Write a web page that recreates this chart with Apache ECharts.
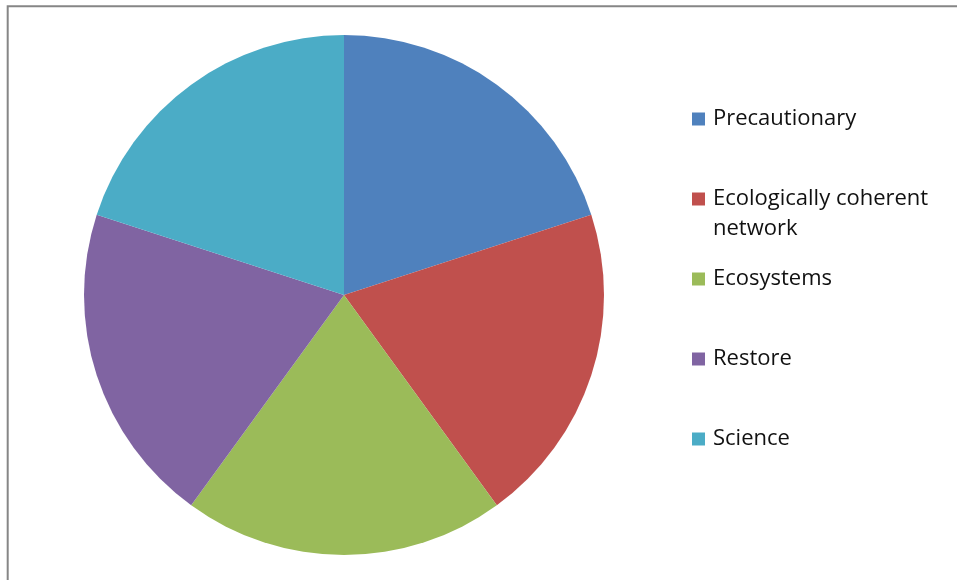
<!DOCTYPE html>
<html>
<head>
<meta charset="utf-8">
<script src="https://cdn.jsdelivr.net/npm/echarts@6/dist/echarts.min.js"></script>
<style>
html,body{margin:0;padding:0;background:#fff;}
#chart{width:957px;height:580px;}
</style>
</head>
<body>
<div id="chart"></div>
<script>
const categories = ['Precautionary', 'Ecologically coherent network', 'Ecosystems', 'Restore', 'Science'];
const values = [1, 1, 1, 1, 1];
const colors = ['#4F81BD', '#C0504D', '#9BBB59', '#8064A2', '#4BACC6'];

const chart = echarts.init(document.getElementById('chart'), null, {renderer: 'canvas'});
const option = {
  animation: false,
  backgroundColor: '#fff',
  color: colors,
  legend: {
    orient: 'vertical',
    left: 687,
    top: 101,
    itemWidth: 13,
    itemHeight: 13,
    itemGap: 54,
    icon: 'rect',
    selectedMode: false,
    data: categories,
    formatter: function (name) {
      return name === 'Ecologically coherent network' ? 'Ecologically coherent' : name;
    },
    textStyle: {
      fontFamily: 'Open Sans',
      fontSize: 22,
      color: '#111',
      padding: [0, 0, 0, 3],
      lineHeight: 26
    }
  },
  graphic: [
    {
      type: 'rect',
      silent: true,
      shape: {x: 7.7, y: 6.2, width: 1000, height: 700},
      style: {fill: 'none', stroke: '#868686', lineWidth: 2}
    },
    {
      type: 'text',
      silent: true,
      left: 713,
      top: 218,
      style: {text: 'network', font: '22px "Open Sans"', fill: '#111'}
    }
  ],
  series: [{
    type: 'pie',
    center: [344, 295],
    radius: 260,
    startAngle: 90,
    clockwise: true,
    label: {show: false},
    labelLine: {show: false},
    emphasis: {disabled: true},
    itemStyle: {borderWidth: 0},
    data: categories.map((c, i) => ({name: c, value: values[i]}))
  }]
};
chart.setOption(option);
</script>
</body>
</html>
